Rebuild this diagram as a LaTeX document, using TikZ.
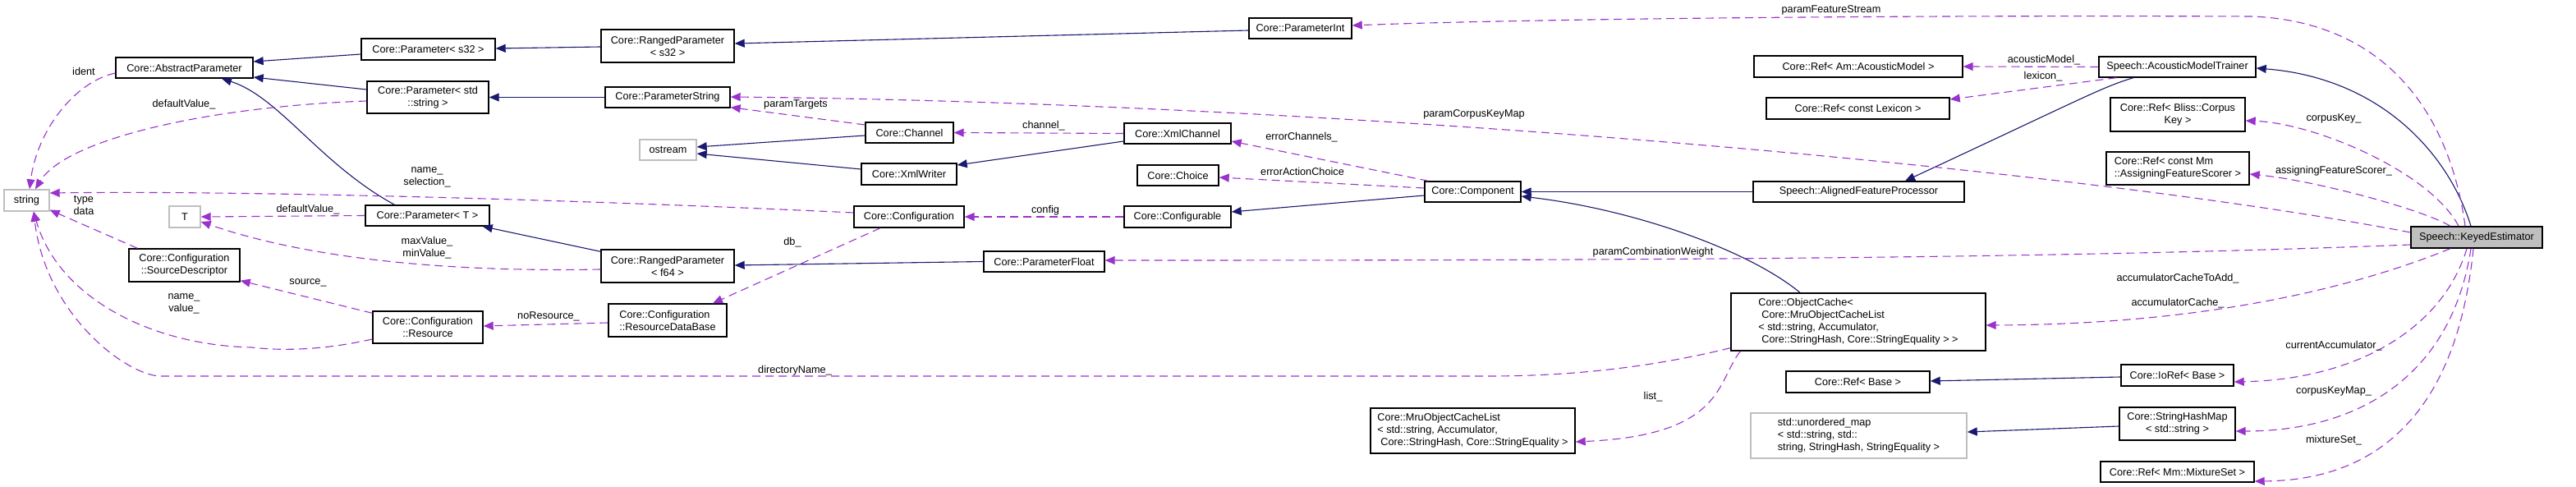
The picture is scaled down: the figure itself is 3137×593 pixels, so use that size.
\documentclass[tikz,border=0pt]{standalone}
\usepackage{fontspec}
\setmainfont{Liberation Sans}
\usetikzlibrary{arrows.meta,calc}
\definecolor{inhblue}{HTML}{191970}
\definecolor{usepurple}{HTML}{9A32CD}
\definecolor{extgray}{HTML}{BFBFBF}
\definecolor{kefill}{HTML}{BFBFBF}
\newcommand\dxfont{\fontsize{12.7pt}{15pt}\selectfont}
\begin{document}
\begin{tikzpicture}[x=1pt,y=-1pt,
  box/.style={draw=black, line width=1.4pt, fill=white, inner sep=0pt, font=\dxfont, align=center},
  ext/.style={box, draw=extgray},
  boxl/.style={box, align=left},
  inh/.style={draw=inhblue, line width=1.1pt, -{Triangle[length=12pt,width=10pt]}},
  use/.style={draw=usepurple, line width=1.1pt, dash pattern=on 10pt off 6pt, -{Triangle[length=12pt,width=10pt]}},
  lab/.style={font=\dxfont, inner sep=0pt, align=center}]
\useasboundingbox (0,0) rectangle (3137,593);
% ---------- nodes ----------
\node[ext, minimum width=55, minimum height=26] (string) at (32.5,244) {string};
\node[box, minimum width=167, minimum height=25] (AP) at (224.5,82.5) {Core::AbstractParameter};
\node[box, minimum width=163, minimum height=26] (PS32) at (521.5,60) {Core::Parameter< s32 >};
\node[box, minimum width=148, minimum height=39] (PStd) at (521,118.5) {Core::Parameter< std\\::string >};
\node[ext, minimum width=38, minimum height=26] (T) at (225,264) {T};
\node[box, minimum width=151, minimum height=25] (PT) at (520.5,262.5) {Core::Parameter< T >};
\node[box, minimum width=135, minimum height=40] (SD) at (224.5,323) {Core::Configuration\\::SourceDescriptor};
\node[box, minimum width=134, minimum height=39] (Res) at (521,398.5) {Core::Configuration\\::Resource};
\node[box, minimum width=162, minimum height=40] (RS32) at (813,56) {Core::RangedParameter\\< s32 >};
\node[box, minimum width=152, minimum height=25] (PStr) at (813,118.5) {Core::ParameterString};
\node[ext, minimum width=69, minimum height=25] (ostream) at (813.5,182.5) {ostream};
\node[box, minimum width=107, minimum height=25] (Chan) at (1107.5,161.5) {Core::Channel};
\node[box, minimum width=116, minimum height=26] (XW) at (1107,212) {Core::XmlWriter};
\node[box, minimum width=130, minimum height=25] (XC) at (1434,162.5) {Core::XmlChannel};
\node[box, minimum width=99, minimum height=25] (Choice) at (1434.5,213.5) {Core::Choice};
\node[box, minimum width=134, minimum height=26] (Conf) at (1107,264) {Core::Configuration};
\node[box, minimum width=130, minimum height=26] (Cfgb) at (1434,264) {Core::Configurable};
\node[box, minimum width=162, minimum height=40] (RF64) at (813,324) {Core::RangedParameter\\< f64 >};
\node[boxl, minimum width=144, minimum height=40] (RDB) at (813,390) {Core::Configuration\\::ResourceDataBase};
\node[box, minimum width=147, minimum height=25] (PF) at (1271.5,318.5) {Core::ParameterFloat};
\node[box, minimum width=125, minimum height=25] (PI) at (1583.5,34.5) {Core::ParameterInt};
\node[box, minimum width=117, minimum height=25] (Comp) at (1793.5,233.5) {Core::Component};
\node[box, minimum width=257, minimum height=25] (AFP) at (2263.5,233.5) {Speech::AlignedFeatureProcessor};
\node[box, minimum width=254, minimum height=26] (RefAM) at (2263,81) {Core::Ref< Am::AcousticModel >};
\node[box, minimum width=223, minimum height=26] (RefLex) at (2262.5,132) {Core::Ref< const Lexicon >};
\node[box, minimum width=191, minimum height=25] (AMT) at (2651.5,81.5) {Speech::AcousticModelTrainer};
\node[box, minimum width=164, minimum height=41] (RefCK) at (2652,139.5) {Core::Ref< Bliss::Corpus\\Key >};
\node[boxl, minimum width=174, minimum height=40] (RefAFS) at (2652,205) {Core::Ref< const Mm\\::AssigningFeatureScorer >};
\node[box, fill=kefill, minimum width=160, minimum height=26] (KE) at (3016,289) {Speech::KeyedEstimator};
\node[boxl, minimum width=310, minimum height=70] (OC) at (2263,392) {Core::ObjectCache<\\\hspace*{4pt}Core::MruObjectCacheList\\< std::string, Accumulator,\\\hspace*{4pt}Core::StringHash, Core::StringEquality > >};
\node[box, minimum width=175, minimum height=26] (RefB) at (2262.5,465) {Core::Ref< Base >};
\node[ext, align=left, minimum width=263, minimum height=55] (UM) at (2263.5,530.5) {std::unordered\_map\\< std::string, std::\\string, StringHash, StringEquality >};
\node[boxl, minimum width=249, minimum height=55] (Mru) at (1793.5,524.5) {Core::MruObjectCacheList\\< std::string, Accumulator,\\\hspace*{4pt}Core::StringHash, Core::StringEquality >};
\node[box, minimum width=137, minimum height=26] (IoRef) at (2651.5,457) {Core::IoRef< Base >};
\node[box, minimum width=141, minimum height=40] (SHM) at (2651.5,516) {Core::StringHashMap\\< std::string >};
\node[box, minimum width=187, minimum height=25] (RefMix) at (2651.5,574.5) {Core::Ref< Mm::MixtureSet >};
% ---------- inheritance ----------
\draw[inh] ($(PS32.west)+(0,6)$) -- ($(AP.east)+(0,-7.5)$);
\draw[inh] ($(PStd.west)+(0,-9.5)$) -- ($(AP.east)+(0,11.5)$);
\draw[inh] ($(PT.north)+(-40,0)$) .. controls (390,200) and (340,118) .. ($(AP.south)+(45.5,0)$);
\draw[inh] ($(RS32.west)+(0,1)$) -- ($(PS32.east)+(0,-1)$);
\draw[inh] (PStr.west) -- (PStd.east);
\draw[inh] ($(RF64.north west)+(0,3)$) -- ($(PT.south east)+(-9,0)$);
\draw[inh] ($(Chan.west)+(0,3.5)$) -- ($(ostream.east)+(0,-3.5)$);
\draw[inh] ($(XW.west)+(0,-6)$) -- ($(ostream.east)+(0,4.5)$);
\draw[inh] ($(XC.west)+(0,9.5)$) -- ($(XW.east)+(0,-11)$);
\draw[inh] ($(PI.west)+(0,2.5)$) -- ($(RS32.east)+(0,-3)$);
\draw[inh] (PF.west) -- ($(RF64.east)+(0,-1)$);
\draw[inh] ($(Comp.west)+(0,4.5)$) -- ($(Cfgb.east)+(0,-6)$);
\draw[inh] (AFP.west) -- (Comp.east);
\draw[inh] ($(OC.north)+(-71,0)$) .. controls (2130,305) and (1990,255) .. ($(Comp.east)+(0,5.5)$);
\draw[inh] ($(AMT.south)+(-53.5,0)$) .. controls (2560,106) and (2540,118) .. ($(AFP.north)+(56.5,0)$);
\draw[inh] ($(KE.north)+(-7,0)$) .. controls (2982,188) and (2900,95) .. ($(AMT.east)+(0,1.5)$);
\draw[inh] ($(IoRef.west)+(0,2)$) -- ($(RefB.east)+(0,-1)$);
\draw[inh] ($(SHM.west)+(0,3)$) -- ($(UM.east)+(0,-4.5)$);
% ---------- usage ----------
\draw[use] ($(AP.west)+(0,6.5)$) .. controls (90,100) and (45,160) .. ($(string.north)+(3.5,0)$);
\draw[use] ($(PStd.west)+(0,4.5)$) .. controls (250,130) and (80,170) .. ($(string.north)+(10.5,0)$);
\draw[use] ($(Conf.west)+(0,-5)$) .. controls (700,243) and (300,232) .. ($(string.east)+(0,-9)$);
\draw[use] (PT.west) -- (T.east);
\draw[use] ($(RF64.west)+(0,4)$) .. controls (520,332) and (360,310) .. ($(T.east)+(0,6)$);
\draw[use] ($(SD.north west)+(11,0)$) -- ($(string.south east)+(0,-2)$);
\draw[use] ($(Res.north west)+(0,3)$) -- ($(SD.south east)+(0,-2)$);
\draw[use] ($(Res.west)+(0,14.5)$) .. controls (400,425) and (350,428) .. (306,423) .. controls (180,420) and (70,360) .. ($(string.south)+(8.5,0)$);
\draw[use] ($(RDB.west)+(0,3)$) -- ($(Res.east)+(0,-1.5)$);
\draw[use] ($(Conf.south)+(-35,0)$) -- ($(RDB.north)+(55,0)$);
\draw[use] ($(Chan.west)+(0,-9.5)$) -- ($(PStr.south east)+(0,-1)$);
\draw[use] (XC.west) -- (Chan.east);
\draw[use] ($(Comp.north west)+(5,0)$) -- ($(XC.east)+(0,9.5)$);
\draw[use] ($(Comp.west)+(0,-4.5)$) -- ($(Choice.east)+(0,2.5)$);
\draw[use] (Cfgb.west) -- (Conf.east);
\draw[use] ($(KE.north)+(-14,0)$) .. controls (2985,150) and (2915,28) .. (2744,20) .. controls (2200,18) and (1800,25) .. ($(PI.east)+(0,-3.5)$);
\draw[use] ($(KE.west)+(0,-6)$) .. controls (2500,200) and (1600,125) .. ($(PStr.east)+(0,-0.5)$);
\draw[use] ($(KE.west)+(0,9)$) .. controls (2500,315) and (2000,317) .. ($(PF.east)+(0,-1.5)$);
\draw[use] ($(KE.south)+(-32,0)$) .. controls (2880,345) and (2700,395) .. ($(OC.east)+(0,4)$);
\draw[use] ($(OC.south west)+(0,-4)$) .. controls (2000,450) and (1900,458) .. (1812,458) -- (194,458) .. controls (150,455) and (55,380) .. ($(string.south)+(8.5,0)$);
\draw[use] ($(OC.south west)+(12,0)$) .. controls (2090,465) and (2100,530) .. ($(Mru.east)+(0,13.5)$);
\draw[use] (AMT.west) -- (RefAM.east);
\draw[use] ($(AMT.south west)+(22,0)$) -- ($(RefLex.east)+(0,-11)$);
\draw[use] ($(KE.north)+(-22,0)$) .. controls (2960,210) and (2820,150) .. ($(RefCK.east)+(0,7.5)$);
\draw[use] ($(KE.north)+(-32,0)$) .. controls (2950,255) and (2820,220) .. ($(RefAFS.east)+(0,7)$);
\draw[use] ($(KE.south)+(-12,0)$) .. controls (2975,400) and (2870,462) .. ($(IoRef.east)+(0,8)$);
\draw[use] ($(KE.south)+(-7,0)$) .. controls (2985,460) and (2870,525) .. ($(SHM.east)+(0,9)$);
\draw[use] ($(KE.south)+(-4,0)$) .. controls (2990,520) and (2880,585) .. ($(RefMix.east)+(0,11.5)$);
% ---------- labels ----------
\node[lab] (l1) at (102,87) {ident};
\node[lab] (l2) at (224,127) {defaultValue\_};
\node[lab] (l3) at (520,216) {name\_\\selection\_};
\node[lab] (l4) at (102,250) {type\\data};
\node[lab] (l5) at (375,255) {defaultValue\_};
\node[lab] (l6) at (520,302) {maxValue\_\\minValue\_};
\node[lab] (l7) at (375,344) {source\_};
\node[lab] (l8) at (224,370) {name\_\\value\_};
\node[lab] (l9) at (668,385) {noResource\_};
\node[lab] (l10) at (969,127) {paramTargets};
\node[lab] (l11) at (1271,153) {channel\_};
\node[lab] (l12) at (1273,256) {config};
\node[lab] (l13) at (965,295) {db\_};
\node[lab] (l14) at (968,451) {directoryName\_};
\node[lab] (l15) at (2230,12) {paramFeatureStream};
\node[lab] (l16) at (1795,139) {paramCorpusKeyMap};
\node[lab] (l17) at (1585,167) {errorChannels\_};
\node[lab] (l18) at (1586,209) {errorActionChoice};
\node[lab] (l19) at (2489,73) {acousticModel\_};
\node[lab] (l20) at (2488,93) {lexicon\_};
\node[lab] (l21) at (2842,144) {corpusKey\_};
\node[lab] (l22) at (2842,208) {assigningFeatureScorer\_};
\node[lab] (l23) at (2013,307) {paramCombinationWeight};
\node[lab] (l24) at (2013,483) {list\_};
\node[lab] (l25) at (2652,354) {accumulatorCacheToAdd\_\\[15pt]accumulatorCache\_};
\node[lab] (l26) at (2842,421) {currentAccumulator\_};
\node[lab] (l27) at (2842,476) {corpusKeyMap\_};
\node[lab] (l28) at (2842,536) {mixtureSet\_};
\end{tikzpicture}
\end{document}
